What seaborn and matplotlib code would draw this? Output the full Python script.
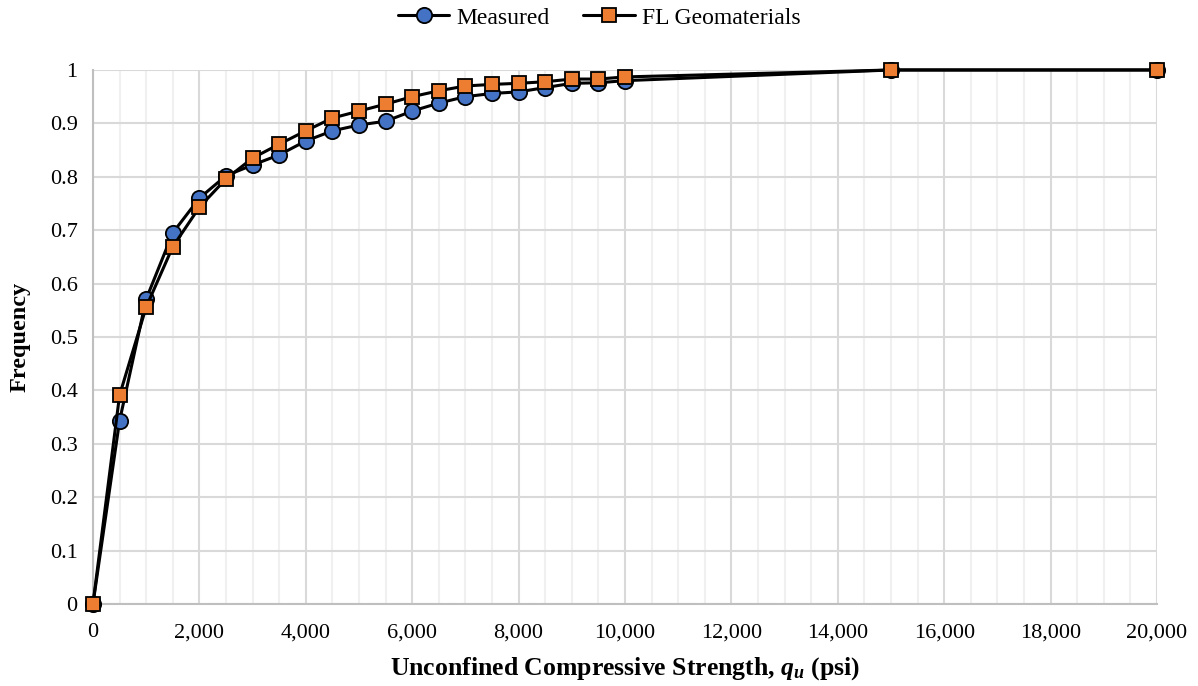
import matplotlib
matplotlib.use("Agg")
import matplotlib.pyplot as plt
from matplotlib.ticker import MultipleLocator, FuncFormatter
import seaborn as sns
import pandas as pd

strength_measured = [0, 500, 1000, 1500, 2000, 2500, 3000, 3500, 4000, 4500, 5000,
                     5500, 6000, 6500, 7000, 7500, 8000, 8500, 9000, 9500, 10000, 15000, 20000]
freq_measured = [0, 0.343, 0.571, 0.695, 0.760, 0.802, 0.822, 0.841, 0.867, 0.886, 0.897,
                 0.904, 0.923, 0.938, 0.950, 0.956, 0.959, 0.967, 0.975, 0.976, 0.980, 1.0, 1.0]
strength_fl = [0, 500, 1000, 1500, 2000, 2500, 3000, 3500, 4000, 4500, 5000,
               5500, 6000, 6500, 7000, 7500, 8000, 8500, 9000, 9500, 10000, 15000, 20000]
freq_fl = [0, 0.391, 0.556, 0.669, 0.743, 0.796, 0.835, 0.861, 0.886, 0.910, 0.923,
           0.936, 0.950, 0.961, 0.970, 0.973, 0.975, 0.978, 0.983, 0.983, 0.987, 1.0, 1.0]

sns.set_theme(style="white")
plt.rcParams['font.family'] = ['Liberation Serif', 'DejaVu Serif']
plt.rcParams['mathtext.fontset'] = 'custom'
plt.rcParams['mathtext.rm'] = 'Liberation Serif:bold'
plt.rcParams['mathtext.it'] = 'Liberation Serif:bold:italic'
plt.rcParams['mathtext.bf'] = 'Liberation Serif:bold'
plt.rcParams['text.color'] = 'black'
plt.rcParams['axes.labelcolor'] = 'black'
plt.rcParams['xtick.color'] = 'black'
plt.rcParams['ytick.color'] = 'black'

fig = plt.figure(figsize=(11.98, 6.86), dpi=100)
ax = fig.add_axes([0.0776, 0.1195, 0.8882, 0.7785])

df_m = pd.DataFrame({"x": strength_measured, "y": freq_measured})
df_f = pd.DataFrame({"x": strength_fl, "y": freq_fl})

sns.lineplot(data=df_m, x="x", y="y", ax=ax, color="black", linewidth=2.2,
             marker="o", markersize=11, markerfacecolor="#4472C4",
             markeredgecolor="black", markeredgewidth=1.3, label="Measured",
             zorder=3, clip_on=False)
sns.lineplot(data=df_f, x="x", y="y", ax=ax, color="black", linewidth=2.2,
             marker="s", markersize=10.5, markerfacecolor="#ED7D31",
             markeredgecolor="black", markeredgewidth=1.3, label="FL Geomaterials",
             zorder=4, clip_on=False)

ax.set_xlim(0, 20000)
ax.set_ylim(0, 1)
ax.xaxis.set_major_locator(MultipleLocator(2000))
ax.xaxis.set_minor_locator(MultipleLocator(500))
ax.yaxis.set_major_locator(MultipleLocator(0.1))
ax.xaxis.set_major_formatter(FuncFormatter(lambda v, p: f"{int(v):,}"))
ax.yaxis.set_major_formatter(FuncFormatter(lambda v, p: "0" if abs(v) < 1e-9 else ("1" if abs(v-1) < 1e-9 else f"{v:.1f}")))

ax.grid(which="major", axis="both", color="#D9D9D9", linewidth=1.5, zorder=0)
ax.grid(which="minor", axis="x", color="#F0F0F0", linewidth=1.5, zorder=0)
ax.set_axisbelow(True)

for s in ["top", "right"]:
    ax.spines[s].set_visible(False)
for s in ["left", "bottom"]:
    ax.spines[s].set_color("#BFBFBF")
    ax.spines[s].set_linewidth(1.5)

ax.tick_params(axis="both", which="both", length=0, labelsize=16, colors="black")
ax.tick_params(axis="x", pad=14)
ax.tick_params(axis="y", pad=11)

ax.set_xlabel(r"Unconfined Compressive Strength, $q_u$ (psi)", fontsize=18.5,
              fontweight="bold", labelpad=9, color="black")
ax.set_ylabel("Frequency", fontsize=17.5, fontweight="bold", labelpad=14, color="black")

leg = ax.legend(loc="center", bbox_to_anchor=(0.4756, 1.0 + 52 / 534), ncol=2, frameon=False,
                fontsize=17, handlelength=2.2, columnspacing=1.4, handletextpad=0.3,
                borderaxespad=0)
for t in leg.get_texts():
    t.set_color("black")

fig.savefig("out.png", dpi=100)
